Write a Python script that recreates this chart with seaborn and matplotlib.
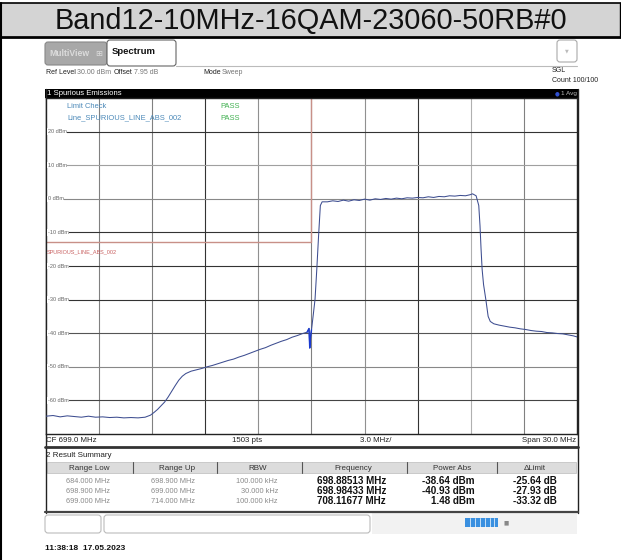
# Spurious emission screenshot (R&S style) recreated with seaborn / matplotlib
import numpy as np
import pandas as pd
import matplotlib
matplotlib.use("Agg")
import matplotlib.pyplot as plt
import seaborn as sns
from matplotlib.patches import Rectangle, FancyBboxPatch

# ---- data ----
title = "Band12-10MHz-16QAM-23060-50RB#0"

freq_mhz = [684.0, 684.4, 684.8, 685.2, 685.6, 686.0, 686.4, 686.8, 687.2, 687.6,
            688.0, 688.4, 688.8, 689.2, 689.6, 689.9, 690.1, 690.3, 690.5, 690.7,
            690.9, 691.1, 691.3, 691.5, 691.7, 691.9, 692.2, 692.5, 692.8, 693.1,
            693.4, 693.7, 694.0, 694.3, 694.6, 694.9, 695.2, 695.5, 695.8, 696.1,
            696.4, 696.7, 697.0, 697.3, 697.6, 697.9, 698.2, 698.5, 698.75, 698.86,
            698.9, 698.95, 699.0, 699.1, 699.2, 699.3, 699.4, 699.5, 699.6, 699.9,
            700.2, 700.5, 700.8, 701.1, 701.4, 701.7, 702.0, 702.3, 702.6, 702.9,
            703.2, 703.5, 703.8, 704.1, 704.4, 704.7, 705.0, 705.3, 705.6, 705.9,
            706.2, 706.5, 706.8, 707.1, 707.4, 707.7, 707.95, 708.1, 708.3, 708.45,
            708.52, 708.58, 708.64, 708.72, 708.85, 708.98, 709.1, 709.3, 709.6, 709.9,
            710.2, 710.5, 710.8, 711.1, 711.4, 711.7, 712.0, 712.3, 712.6, 712.9,
            713.2, 713.5, 713.8, 714.0]
level_dbm = [-64.7, -64.5, -64.9, -64.6, -64.8, -65.0, -64.7, -65.0, -64.9, -65.1,
             -65.0, -65.2, -65.1, -65.2, -65.0, -64.4, -63.6, -62.7, -61.6, -60.5,
             -59.0, -57.3, -55.6, -54.0, -52.8, -52.0, -51.3, -50.9, -50.5, -50.0,
             -49.6, -49.1, -48.6, -48.1, -47.7, -47.1, -46.6, -46.0, -45.4, -44.8,
             -44.3, -43.6, -43.0, -42.4, -41.9, -41.2, -40.7, -40.1, -39.7, -38.6,
             -44.4, -40.9, -39.0, -34.5, -29.9, -20.9, -11.0, -2.0, -0.9, -0.9,
             -0.6, -0.8, -0.4, -0.7, -0.3, -0.5, -0.1, -0.4, 0.0, -0.2,
             0.1, -0.1, 0.2, 0.0, 0.3, 0.2, 0.4, 0.3, 0.6, 0.4,
             0.7, 0.6, 0.9, 0.8, 1.0, 0.9, 1.2, 1.48, 0.9, -2.0,
             -8.0, -15.0, -21.0, -25.5, -30.0, -35.0, -36.5, -37.2, -37.6, -37.9,
             -38.2, -38.4, -38.7, -38.9, -39.2, -39.4, -39.5, -39.8, -39.9, -40.1,
             -40.2, -40.5, -40.8, -41.1]

limit_freq = [684.0, 699.0, 699.0]
limit_dbm = [-13.0, -13.0, 30.0]

y_labels = ["20 dBm", "10 dBm", "0 dBm", "-10 dBm", "-20 dBm", "-30 dBm",
            "-40 dBm", "-50 dBm", "-60 dBm"]
y_label_vals = [20, 10, 0, -10, -20, -30, -40, -50, -60]

col_headers = ["Range Low", "Range Up", "RBW", "Frequency", "Power Abs", "\u0394Limit"]
range_low = ["684.000 MHz", "698.900 MHz", "699.000 MHz"]
range_up = ["698.900 MHz", "699.000 MHz", "714.000 MHz"]
rbw = ["100.000 kHz", "30.000 kHz", "100.000 kHz"]
peak_freq = ["698.88513 MHz", "698.98433 MHz", "708.11677 MHz"]
power_abs = ["-38.64 dBm", "-40.93 dBm", "1.48 dBm"]
delta_limit = ["-25.64 dB", "-27.93 dB", "-33.32 dB"]

trace = pd.DataFrame({"Frequency (MHz)": freq_mhz, "Level (dBm)": level_dbm})

# ---- style ----
sns.set_style("white")
plt.rcParams["font.family"] = ["Liberation Sans", "DejaVu Sans"]

W, H = 621, 560
fig = plt.figure(figsize=(W / 100, H / 100), dpi=100)

# full-figure axes in pixel coordinates for the instrument frame
ui = fig.add_axes([0, 0, 1, 1])
ui.set_xlim(0, W)
ui.set_ylim(H, 0)
ui.axis("off")

def box(x0, y0, x1, y1, fc="white", ec="none", lw=0.8, z=1, rounded=False):
    if rounded:
        p = FancyBboxPatch((x0, y0), x1 - x0, y1 - y0, boxstyle="round,pad=0,rounding_size=3",
                           fc=fc, ec=ec, lw=lw, zorder=z)
    else:
        p = Rectangle((x0, y0), x1 - x0, y1 - y0, fc=fc, ec=ec, lw=lw, zorder=z)
    ui.add_patch(p)

# title band
box(0, 3, W, 36, fc="#d4d4d4", ec="none")
ui.plot([0, W], [3, 3], color="black", lw=1.2)
ui.plot([0, W], [36.5, 36.5], color="black", lw=2)
ui.plot([1, 1], [3, H], color="black", lw=1.5)
ui.plot([619.5, 619.5], [3, 37], color="black", lw=1.0)
ui.text(310.5, 20.5, title, ha="center", va="center", fontsize=20.8, color="#111111")

# tabs
box(45, 42, 107, 65, fc="#a8a8a8", ec="#888888", rounded=True)
ui.text(49, 54, "MultiView", fontsize=6.2, color="#dcdcdc", weight="bold", va="center")
ui.text(95, 54, "\u229e", fontsize=6, color="#dcdcdc", va="center", family=["DejaVu Sans"])
box(107, 40, 176, 66, fc="white", ec="#666666", rounded=True, z=2)
ui.text(112, 52, "Spectrum", fontsize=6.8, color="#111111", weight="bold", va="center", zorder=3)
ui.plot([176, 577], [65.5, 65.5], color="#bbbbbb", lw=0.8)
box(557, 40, 577, 62, fc="white", ec="#aaaaaa", rounded=True)
ui.text(567, 51, "\u25bc", fontsize=3.5, color="#bbbbbb", ha="center", va="center",
        family=["DejaVu Sans"])

# info line
info_y = 73
info_fs = 5.0
ui.text(46, info_y, "Ref Level", fontsize=info_fs, color="#222222", va="center")
ui.text(77, info_y, "30.00 dBm", fontsize=info_fs, color="#777777", va="center")
ui.text(114, info_y, "Offset", fontsize=info_fs, color="#222222", va="center")
ui.text(134, info_y, "7.95 dB", fontsize=info_fs, color="#777777", va="center")
ui.text(203, info_y, "Mode", fontsize=info_fs, color="#222222", va="center")
ui.text(222, info_y, "Sweep", fontsize=info_fs, color="#777777", va="center")
ui.text(552, 70, "SGL", fontsize=info_fs, color="#222222", va="center")
ui.text(552, 80, "Count 100/100", fontsize=info_fs, color="#222222", va="center")

# black window header
box(45, 89, 578, 98, fc="black")
ui.text(47, 93.5, "1 Spurious Emissions", fontsize=5.6, color="white", va="center")
ui.text(555, 93.5, "\u25cf", fontsize=4, color="#3050d0", va="center", family=["DejaVu Sans"])
ui.text(561, 93.5, "1 Avg", fontsize=4.6, color="#bbbbbb", va="center")

# ---- spectrum axes ----
x0, x1, y0, y1 = 46, 577, 98, 434
ax = fig.add_axes([x0 / W, 1 - y1 / H, (x1 - x0) / W, (y1 - y0) / H])
ax.set_xlim(684, 714)
ax.set_ylim(-70, 30)
ax.set_xticks([])
ax.set_yticks([])
for s in ax.spines.values():
    s.set_color("#222222")
    s.set_linewidth(1.0)

v_lines = [687, 690, 693, 696, 699, 702, 705, 708, 711]
v_colors = ["#808080", "#808080", "#333333", "#909090", "#808080",
            "#909090", "#333333", "#b0b0b0", "#808080"]
for xv, c in zip(v_lines, v_colors):
    ax.axvline(xv, color=c, lw=0.8, zorder=1)
h_lines = [20, 10, 0, -10, -20, -30, -40, -50, -60]
h_colors = ["#333333", "#a0a0a0", "#888888", "#333333", "#333333",
            "#333333", "#555555", "#888888", "#444444"]
for yv, c in zip(h_lines, h_colors):
    ax.axhline(yv, color=c, lw=0.8, zorder=1)

for lab, yv in zip(y_labels, y_label_vals):
    ax.text(684.1, yv, lab, fontsize=4.0, color="#666666", va="center", ha="left",
            zorder=3, bbox=dict(fc="white", ec="none", pad=0.5))

# limit line
ax.plot(limit_freq, limit_dbm, color="#c89088", lw=1.0, zorder=2)
ax.text(684.05, -15.8, "SPURIOUS_LINE_ABS_002", fontsize=4.0, color="#c86060",
        va="center", ha="left", zorder=3)

# measured trace
sns.lineplot(data=trace, x="Frequency (MHz)", y="Level (dBm)", ax=ax, color="#3d4d90",
             lw=0.75, estimator=None, sort=False, zorder=4)
spike = trace[(trace["Frequency (MHz)"] >= 698.75) & (trace["Frequency (MHz)"] <= 699.0)]
sns.lineplot(data=spike, x="Frequency (MHz)", y="Level (dBm)", ax=ax, color="#1a3ad0",
             lw=1.0, estimator=None, sort=False, zorder=5)
ax.set_xlabel("")
ax.set_ylabel("")

# limit check legend
ax.text(685.2, 27.6, "Limit Check", fontsize=5.4, color="#4a88b8", va="center")
ax.text(685.2, 24.0, "Line_SPURIOUS_LINE_ABS_002", fontsize=5.4, color="#4a88b8", va="center")
ax.text(694.4, 27.6, "PASS", fontsize=5.4, color="#40b050", va="center", ha="center")
ax.text(694.4, 24.0, "PASS", fontsize=5.4, color="#40b050", va="center", ha="center")

# ---- footer row ----
ui.plot([45.5, 45.5], [89, 513], color="#222222", lw=1.0)
ui.plot([577.5, 577.5], [89, 513], color="#222222", lw=1.0)
ui.text(46, 441, "CF 699.0 MHz", fontsize=5.7, color="#222222", va="center")
ui.text(247, 441, "1503 pts", fontsize=5.7, color="#222222", va="center", ha="center")
ui.text(376, 441, "3.0 MHz/", fontsize=5.7, color="#222222", va="center", ha="center")
ui.text(576, 441, "Span 30.0 MHz", fontsize=5.7, color="#222222", va="center", ha="right")
ui.plot([45, 578], [447, 447], color="#333333", lw=2)

# ---- result summary ----
ui.text(46, 455.5, "2 Result Summary", fontsize=5.8, color="#222222", va="center")
box(47, 462, 576, 473, fc="#dcdcdc", ec="#bbbbbb", lw=0.5)
col_sep = [133, 217, 302, 407, 497]
for xs in col_sep:
    ui.plot([xs, xs], [462, 473], color="#555555", lw=0.8)
col_centers = [89, 177, 258, 353, 452, 535]
for c, t in zip(col_centers, col_headers):
    ui.text(c, 468, t, fontsize=5.8, color="#333333", va="center", ha="center")

row_y = [481.5, 491.5, 501.5]
for i, ry in enumerate(row_y):
    ui.text(110, ry, range_low[i], fontsize=5.3, color="#8a8a8a", va="center", ha="right")
    ui.text(195, ry, range_up[i], fontsize=5.3, color="#8a8a8a", va="center", ha="right")
    ui.text(278, ry, rbw[i], fontsize=5.3, color="#8a8a8a", va="center", ha="right")
    ui.text(386, ry, peak_freq[i], fontsize=7.1, color="#111111", va="center", ha="right",
            weight="bold")
    ui.text(475, ry, power_abs[i], fontsize=7.1, color="#111111", va="center", ha="right",
            weight="bold")
    ui.text(557, ry, delta_limit[i], fontsize=7.1, color="#111111", va="center", ha="right",
            weight="bold")
ui.plot([45, 578], [512, 512], color="#444444", lw=1.6)

# ---- status bar ----
box(45, 515, 101, 533, fc="white", ec="#bbbbbb", rounded=True)
box(104, 515, 370, 533, fc="white", ec="#bbbbbb", rounded=True)
box(372, 513, 577, 534, fc="#f2f2f2", ec="none")
box(465, 518, 498, 527, fc="#3a90e0", ec="none")
for xs in [470, 475, 480, 485, 490, 494]:
    ui.plot([xs, xs], [518, 527], color="white", lw=0.5)
ui.text(503, 522.5, "\u25a0", fontsize=4, color="#888888", va="center", family=["DejaVu Sans"])

# timestamp
ui.text(45, 549, "11:38:18  17.05.2023", fontsize=6.0, color="#111111", va="center",
        weight="bold")

fig.savefig("out.png", dpi=100)
